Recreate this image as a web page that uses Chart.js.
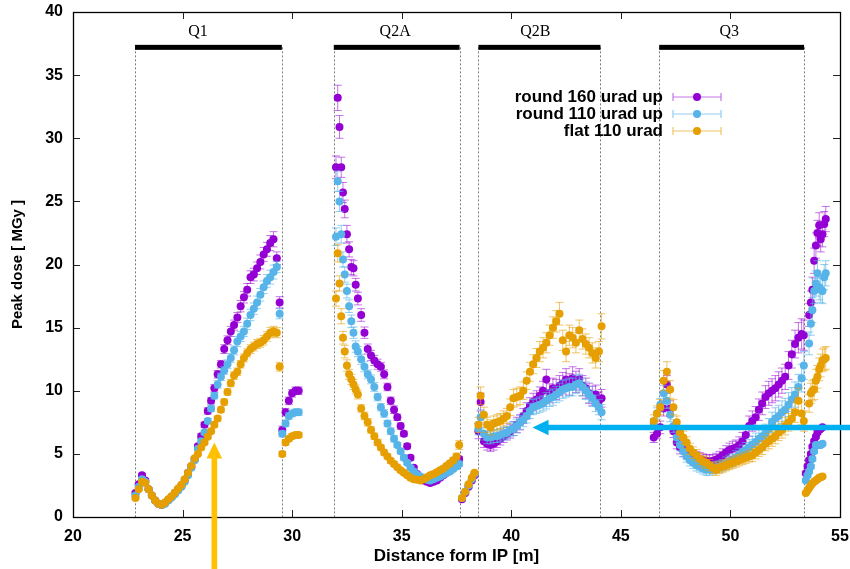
<!DOCTYPE html>
<html>
<head>
<meta charset="utf-8">
<script src="https://cdn.jsdelivr.net/npm/chart.js@4.4.1/dist/chart.umd.min.js"></script>
<style>
html,body{margin:0;padding:0;background:#ffffff;}
#wrap{width:850px;height:569px;}
</style>
</head>
<body>
<div id="wrap"><canvas id="c" width="850" height="569"></canvas></div>
<script>
// ---------- data ----------
const distance = [
  // Q1
  22.85,23.0,23.15,23.3,23.45,23.6,23.75,23.9,24.05,24.2,
  24.35,24.5,24.65,24.8,24.95,25.1,25.25,25.4,25.55,25.7,
  25.85,26.0,26.15,26.3,26.45,26.6,26.75,26.9,27.05,27.2,
  27.35,27.5,27.65,27.8,27.95,28.1,28.25,28.4,28.55,28.7,
  28.85,29.0,29.15,29.3,29.43,
  // after Q1
  29.55,29.7,29.85,30.0,30.15,30.3,
  // Q2A
  32.0,32.08,32.16,32.24,32.32,32.4,32.5,32.6,32.7,32.8,
  32.9,33.0,33.15,33.3,33.45,33.6,33.75,33.9,34.05,34.2,
  34.35,34.5,34.65,34.8,34.95,35.1,35.25,35.4,35.55,35.7,
  35.85,36.0,36.15,36.3,36.45,36.6,36.75,36.9,37.05,37.2,
  37.35,37.5,37.62,
  // after Q2A
  37.75,37.9,38.05,38.2,38.32,
  // Q2B
  38.5,38.6,38.75,38.9,39.05,39.2,39.35,39.5,39.65,39.8,
  39.95,40.1,40.25,40.4,40.55,40.7,40.85,41.0,41.15,41.3,
  41.45,41.6,41.75,41.9,42.05,42.2,42.35,42.5,42.65,42.8,
  42.95,43.1,43.25,43.4,43.55,43.7,43.85,44.0,44.12,
  // Q3
  46.5,46.65,46.8,46.95,47.1,47.25,47.4,47.55,47.7,47.85,
  48.0,48.15,48.3,48.45,48.6,48.75,48.9,49.05,49.2,49.35,
  49.5,49.65,49.8,49.95,50.1,50.25,50.4,50.55,50.7,50.85,
  51.0,51.15,51.3,51.45,51.6,51.75,51.9,52.05,52.2,52.35,
  52.5,52.65,52.8,52.95,53.1,53.25,53.35,
  // after Q3, upper branch
  53.59,53.67,53.74,53.82,53.9,53.97,54.05,54.12,54.2,54.28,54.35,
  // after Q3, lower branch
  53.44,53.52,53.59,53.67,53.74,53.82,53.9,53.97,54.05,54.12,54.2
];

const round160 = [
  1.9,2.6,3.3,2.9,2.2,1.7,1.3,1.05,0.95,1.1,
  1.35,1.6,1.9,2.2,2.5,2.95,3.5,4.0,4.6,5.6,
  6.4,7.3,8.4,9.2,10.2,11.3,12.1,13.3,14.0,14.7,
  15.2,15.8,16.7,17.4,18.0,19.0,19.2,19.7,20.2,20.8,
  21.2,21.7,22.0,20.5,17.0,
  6.9,8.3,9.2,9.8,10.0,10.0,
  27.7,33.2,30.9,27.7,25.7,24.4,22.4,21.2,19.8,19.7,
  18.4,17.3,16.0,14.6,13.3,12.8,12.4,12.1,11.9,11.3,
  10.3,9.2,8.5,7.9,7.2,6.6,5.6,4.7,3.9,3.4,
  3.1,2.9,2.8,2.7,2.8,2.9,3.1,3.3,3.5,3.7,
  4.0,4.3,4.6,
  1.4,1.9,2.4,2.9,3.3,
  6.8,9.1,6.0,5.8,5.7,5.8,6.0,6.2,6.4,6.6,
  6.8,7.0,7.3,7.5,8.0,8.4,8.8,9.1,9.3,9.6,
  10.0,10.9,9.8,10.2,10.1,10.4,10.6,10.9,10.5,11.0,
  10.7,10.9,10.4,10.2,9.8,9.6,9.7,9.2,9.4,
  6.3,6.6,7.1,8.6,10.5,8.6,6.8,5.9,5.5,5.3,
  5.1,4.9,4.8,4.7,4.6,4.5,4.45,4.4,4.45,4.55,
  4.7,4.9,5.1,5.3,5.4,5.5,5.7,6.0,6.5,7.2,
  7.6,7.9,8.5,9.0,9.5,9.8,10.0,10.2,10.5,10.8,
  11.1,12.0,12.9,13.7,14.2,14.5,14.4,
  16.0,17.0,18.0,20.3,21.5,22.5,23.1,22.0,22.4,23.2,23.6,
  3.46,4.0,4.5,5.0,5.56,6.0,6.36,6.7,6.9,7.0,7.1
];

const round110 = [
  1.7,2.4,3.0,2.8,2.2,1.7,1.3,1.05,0.95,1.05,
  1.3,1.55,1.8,2.1,2.4,2.8,3.3,3.9,4.5,5.4,
  6.0,6.7,7.6,8.6,9.6,10.5,11.1,11.6,12.1,12.6,
  13.2,13.9,14.3,14.7,15.3,16.0,16.5,17.0,17.6,18.2,
  18.7,19.0,19.4,19.8,16.1,
  6.6,7.4,8.0,8.2,8.3,8.3,
  22.2,26.6,25.0,22.4,20.4,19.2,17.9,16.7,15.5,14.6,
  13.5,13.1,12.5,11.9,11.3,10.9,10.3,9.5,8.7,8.2,
  7.4,6.8,6.2,5.7,5.2,4.7,4.3,3.9,3.6,3.35,
  3.2,3.05,2.95,2.9,3.0,3.1,3.2,3.35,3.5,3.6,
  3.8,4.0,4.2,
  1.5,2.0,2.5,3.0,3.4,
  7.0,7.9,6.6,6.3,6.3,6.4,6.4,6.5,6.6,6.7,
  6.9,7.0,7.2,7.5,7.7,8.0,8.4,8.7,8.8,8.9,
  9.0,9.2,9.4,9.5,9.7,9.9,10.1,10.2,10.3,10.3,
  10.5,10.6,10.3,10.0,9.7,9.4,9.0,8.7,8.3,
  7.4,8.2,8.9,9.8,9.2,8.1,7.2,6.3,5.7,5.2,
  4.8,4.5,4.3,4.1,4.0,3.85,3.75,3.75,3.85,3.95,
  4.0,4.1,4.25,4.4,4.5,4.7,4.9,5.1,5.3,5.5,
  5.75,5.95,6.2,6.4,6.6,7.0,7.5,7.8,8.0,8.3,
  8.5,8.9,9.3,9.7,10.3,11.0,12.0,
  13.75,15.3,16.4,17.9,18.5,19.3,18.2,18.0,17.9,19.0,19.3,
  2.9,3.3,3.6,4.0,4.6,5.2,5.7,5.7,5.7,5.7,5.8
];

const flat110 = [
  1.5,2.2,2.8,2.7,2.2,1.7,1.3,1.05,0.98,1.15,
  1.4,1.65,1.95,2.25,2.55,3.0,3.5,4.05,4.65,5.0,
  5.5,5.9,6.35,6.8,7.3,7.8,8.5,9.1,9.9,10.6,
  11.2,11.5,12.1,12.6,13.0,13.3,13.5,13.7,13.8,14.0,
  14.3,14.6,14.7,14.6,11.9,
  5.0,5.9,6.2,6.4,6.5,6.5,
  17.3,20.9,18.5,15.9,14.2,13.1,12.0,11.3,10.9,10.5,
  10.1,9.7,8.6,8.0,7.5,6.9,6.4,5.9,5.5,5.1,
  4.8,4.45,4.2,3.95,3.7,3.5,3.3,3.1,3.0,2.95,
  2.9,3.0,3.15,3.3,3.4,3.55,3.7,3.85,4.05,4.25,
  4.5,4.8,5.7,
  1.5,2.0,2.6,3.1,3.5,
  7.3,9.6,8.1,7.3,7.1,7.4,7.5,7.6,7.8,8.0,
  8.7,9.4,9.5,9.6,10.0,10.8,11.5,12.1,12.6,13.1,
  13.4,13.8,14.4,15.0,15.5,16.1,14.0,13.1,14.4,14.2,
  13.8,14.8,14.1,13.7,13.4,13.0,12.6,13.1,15.1,
  7.6,8.2,8.7,10.8,11.5,10.1,8.7,7.5,6.7,6.3,
  5.9,5.4,5.1,4.9,4.6,4.4,4.3,4.1,3.9,3.75,
  3.9,4.0,4.1,4.2,4.3,4.4,4.5,4.6,4.7,4.8,
  4.9,5.1,5.3,5.5,5.8,6.0,6.2,6.4,6.7,6.9,
  7.2,7.5,7.8,8.3,9.2,8.2,7.6,
  9.0,9.8,10.0,10.1,10.8,11.1,11.7,12.0,12.4,12.5,12.6,
  1.9,2.1,2.3,2.5,2.65,2.8,2.9,3.0,3.1,3.15,3.2
];

const err160 = [
  0.1,0.1,0.15,0.15,0.1,0.1,0.1,0.1,0.1,0.1,
  0.1,0.1,0.1,0.1,0.1,0.1,0.12,0.12,0.15,0.15,
  0.2,0.2,0.25,0.25,0.3,0.3,0.3,0.35,0.35,0.4,
  0.4,0.4,0.45,0.45,0.5,0.5,0.5,0.5,0.55,0.55,
  0.55,0.6,0.6,0.5,0.45,
  0.3,0.3,0.3,0.3,0.3,0.3,
  0.9,1.0,0.9,0.8,0.8,0.7,0.7,0.6,0.6,0.6,
  0.5,0.5,0.5,0.45,0.4,0.4,0.4,0.4,0.35,0.35,
  0.3,0.3,0.3,0.25,0.25,0.2,0.2,0.2,0.15,0.15,
  0.15,0.15,0.15,0.15,0.15,0.15,0.15,0.15,0.15,0.15,
  0.2,0.2,0.2,
  0.1,0.1,0.1,0.1,0.1,
  0.6,0.7,0.5,0.5,0.5,0.5,0.5,0.5,0.5,0.5,
  0.55,0.55,0.6,0.6,0.6,0.65,0.65,0.7,0.7,0.7,
  0.75,0.8,0.75,0.8,0.8,0.8,0.85,0.85,0.85,0.9,
  0.85,0.85,0.8,0.8,0.8,0.75,0.75,0.7,0.7,
  0.4,0.4,0.5,0.6,0.7,0.6,0.5,0.5,0.5,0.5,
  0.5,0.5,0.5,0.5,0.5,0.5,0.5,0.5,0.5,0.5,
  0.5,0.5,0.55,0.55,0.6,0.6,0.65,0.7,0.75,0.8,
  0.8,0.85,0.85,0.9,0.9,0.95,0.95,1.0,1.0,1.0,
  1.0,1.1,1.1,1.1,1.2,1.2,1.2,
  0.9,0.9,1.0,1.0,1.0,1.0,1.0,1.0,1.0,1.0,1.0,
  0.15,0.15,0.15,0.15,0.15,0.15,0.15,0.15,0.15,0.15,0.15
];

const err110 = [
  0.1,0.1,0.12,0.12,0.1,0.1,0.1,0.1,0.1,0.1,
  0.1,0.1,0.1,0.1,0.1,0.1,0.1,0.1,0.1,0.12,
  0.15,0.18,0.2,0.25,0.25,0.3,0.3,0.3,0.35,0.35,
  0.35,0.4,0.4,0.4,0.45,0.45,0.45,0.5,0.5,0.5,
  0.5,0.55,0.55,0.45,0.4,
  0.25,0.25,0.25,0.25,0.25,0.25,
  0.7,0.8,0.8,0.7,0.6,0.6,0.55,0.5,0.5,0.45,
  0.45,0.4,0.4,0.4,0.35,0.35,0.35,0.3,0.3,0.3,
  0.25,0.25,0.25,0.2,0.2,0.2,0.15,0.15,0.15,0.15,
  0.15,0.15,0.15,0.15,0.15,0.15,0.15,0.15,0.15,0.15,
  0.15,0.2,0.2,
  0.1,0.1,0.1,0.1,0.1,
  0.5,0.6,0.5,0.5,0.5,0.5,0.5,0.5,0.5,0.5,
  0.55,0.55,0.55,0.55,0.55,0.55,0.6,0.6,0.6,0.6,
  0.6,0.65,0.65,0.65,0.65,0.7,0.7,0.7,0.7,0.7,
  0.7,0.7,0.7,0.7,0.65,0.65,0.65,0.6,0.6,
  0.4,0.45,0.5,0.6,0.6,0.55,0.5,0.45,0.45,0.45,
  0.45,0.45,0.45,0.45,0.45,0.45,0.45,0.45,0.45,0.45,
  0.45,0.45,0.5,0.5,0.5,0.55,0.55,0.6,0.6,0.65,
  0.65,0.7,0.7,0.75,0.75,0.8,0.8,0.85,0.85,0.9,
  0.9,0.95,0.95,1.0,1.0,1.1,1.1,
  0.9,0.9,1.0,1.0,1.0,1.0,1.0,1.0,1.0,1.0,1.0,
  0.15,0.15,0.15,0.15,0.15,0.15,0.15,0.15,0.15,0.15,0.15
];

const errFlat = [
  0.1,0.1,0.12,0.12,0.1,0.1,0.1,0.1,0.1,0.1,
  0.1,0.1,0.1,0.1,0.1,0.1,0.1,0.1,0.1,0.12,
  0.12,0.15,0.15,0.18,0.2,0.2,0.22,0.25,0.25,0.28,
  0.3,0.3,0.3,0.32,0.32,0.35,0.35,0.35,0.35,0.38,
  0.38,0.4,0.4,0.4,0.35,
  0.2,0.2,0.2,0.2,0.2,0.2,
  0.6,0.7,0.6,0.6,0.5,0.5,0.45,0.4,0.4,0.4,
  0.35,0.35,0.3,0.3,0.3,0.25,0.25,0.25,0.2,0.2,
  0.2,0.2,0.2,0.15,0.15,0.15,0.15,0.15,0.15,0.15,
  0.15,0.15,0.15,0.15,0.15,0.15,0.15,0.15,0.15,0.2,
  0.2,0.25,0.35,
  0.1,0.1,0.1,0.1,0.1,
  0.6,0.7,0.6,0.6,0.6,0.6,0.6,0.6,0.6,0.6,
  0.65,0.7,0.7,0.7,0.7,0.7,0.75,0.75,0.75,0.8,
  0.8,0.8,0.8,0.85,0.85,0.9,0.8,0.8,0.8,0.8,
  0.8,0.8,0.8,0.8,0.8,0.8,0.8,0.8,1.0,
  0.5,0.6,0.6,0.8,0.8,0.7,0.6,0.5,0.5,0.5,
  0.45,0.45,0.45,0.45,0.45,0.45,0.45,0.45,0.45,0.45,
  0.45,0.45,0.45,0.45,0.45,0.45,0.45,0.45,0.45,0.45,
  0.5,0.5,0.5,0.55,0.55,0.6,0.6,0.6,0.65,0.65,
  0.7,0.7,0.75,0.8,1.0,0.9,0.8,
  0.7,0.8,0.8,0.8,0.9,0.9,0.9,0.9,0.9,0.9,0.9,
  0.1,0.1,0.1,0.1,0.1,0.1,0.1,0.1,0.1,0.1,0.1
];

const seriesNames = ['round 160 urad up', 'round 110 urad up', 'flat 110 urad'];
const magnetNames = ['Q1', 'Q2A', 'Q2B', 'Q3'];
const magnetStart = [22.83, 31.9, 38.5, 46.75];
const magnetEnd   = [29.53, 37.64, 44.07, 53.36];
const magnetLabelX = [25.7, 34.7, 41.1, 49.95];
const xTickValues = [20, 25, 30, 35, 40, 45, 50, 55];
const yTickValues = [0, 5, 10, 15, 20, 25, 30, 35, 40];

// ---------- styles ----------
const SANS = '"Liberation Sans", Arial, Helvetica, sans-serif';
const SERIF = '"Liberation Serif", "Times New Roman", serif';
const colors = ['#9400D3', '#56B4E9', '#E69F00'];
const errColors = ['rgba(148,0,211,0.55)', 'rgba(86,180,233,0.65)', 'rgba(230,159,0,0.6)'];

function points(values, errs) {
  return distance.map((x, i) => ({ x: x, y: values[i], e: errs[i] }));
}

// error bars, drawn just before each dataset's points
const errorBarPlugin = {
  id: 'errorBars',
  beforeDatasetDraw(chart, args) {
    const ds = chart.data.datasets[args.index];
    const { ctx, scales: { x, y } } = chart;
    ctx.save();
    ctx.strokeStyle = ds.errColor;
    ctx.lineWidth = 1;
    ctx.beginPath();
    ds.data.forEach(p => {
      if (!isFinite(p.y) || !isFinite(p.e)) return;
      const px = x.getPixelForValue(p.x);
      const y1 = y.getPixelForValue(p.y - p.e);
      const y2 = y.getPixelForValue(p.y + p.e);
      ctx.moveTo(px, y1); ctx.lineTo(px, y2);
      ctx.moveTo(px - 4, y1); ctx.lineTo(px + 4, y1);
      ctx.moveTo(px - 4, y2); ctx.lineTo(px + 4, y2);
    });
    ctx.stroke();
    ctx.restore();
  }
};

// magnet bars + dotted boundaries
const magnetPlugin = {
  id: 'magnets',
  beforeDatasetsDraw(chart, args, opts) {
    const { ctx, chartArea: a, scales: { x, y } } = chart;
    const barY = y.getPixelForValue(opts.barLevel);
    const labY = y.getPixelForValue(opts.labelLevel);
    ctx.save();
    magnetNames.forEach((name, i) => {
      const x1 = x.getPixelForValue(magnetStart[i]);
      const x2 = x.getPixelForValue(magnetEnd[i]);
      ctx.strokeStyle = '#7a7a7a';
      ctx.lineWidth = 1;
      ctx.setLineDash([2, 2]);
      [x1, x2].forEach(px => {
        ctx.beginPath();
        ctx.moveTo(Math.round(px) + 0.5, barY);
        ctx.lineTo(Math.round(px) + 0.5, a.bottom);
        ctx.stroke();
      });
      ctx.setLineDash([]);
      ctx.fillStyle = '#000';
      ctx.fillRect(x1, barY - 2.5, x2 - x1, 5);
      ctx.font = '16px ' + SERIF;
      ctx.textAlign = 'center';
      ctx.textBaseline = 'middle';
      ctx.fillText(name, x.getPixelForValue(magnetLabelX[i]), labY);
    });
    ctx.restore();
  }
};

// border box with inward ticks on all four sides
const framePlugin = {
  id: 'frame',
  afterDatasetsDraw(chart) {
    const { ctx, chartArea: a, scales: { x, y } } = chart;
    ctx.save();
    ctx.strokeStyle = '#222';
    ctx.lineWidth = 1;
    ctx.beginPath();
    const L = 7;
    xTickValues.forEach(v => {
      const px = Math.round(x.getPixelForValue(v)) + 0.5;
      ctx.moveTo(px, a.bottom); ctx.lineTo(px, a.bottom - L);
      ctx.moveTo(px, a.top); ctx.lineTo(px, a.top + L);
    });
    yTickValues.forEach(v => {
      const py = Math.round(y.getPixelForValue(v)) + 0.5;
      ctx.moveTo(a.left, py); ctx.lineTo(a.left + L, py);
      ctx.moveTo(a.right, py); ctx.lineTo(a.right - L, py);
    });
    ctx.stroke();
    ctx.strokeStyle = '#000';
    ctx.lineWidth = 1.3;
    ctx.strokeRect(Math.round(a.left) + 0.5, Math.round(a.top) + 0.5,
                   Math.round(a.right - a.left), Math.round(a.bottom - a.top));
    ctx.restore();
  }
};

// gnuplot-style key: right aligned text, then sample
const keyPlugin = {
  id: 'gpKey',
  afterDraw(chart) {
    const { ctx, chartArea: a } = chart;
    ctx.save();
    chart.data.datasets
      .map((ds, i) => ({ ds, i }))
      .sort((p, q) => p.ds.keyRow - q.ds.keyRow)
      .forEach(({ ds }, row) => {
        const yy = a.top + 85 + row * 17;
        const textRight = a.right - 177;
        const l1 = a.right - 167, l2 = a.right - 119;
        ctx.font = 'bold 17px ' + SANS;
        ctx.fillStyle = '#000';
        ctx.textAlign = 'right';
        ctx.textBaseline = 'middle';
        ctx.fillText(ds.label, textRight, yy);
        ctx.strokeStyle = ds.errColor;
        ctx.lineWidth = 1.2;
        ctx.beginPath();
        ctx.moveTo(l1, yy); ctx.lineTo(l2, yy);
        ctx.moveTo(l1, yy - 4); ctx.lineTo(l1, yy + 4);
        ctx.moveTo(l2, yy - 4); ctx.lineTo(l2, yy + 4);
        ctx.stroke();
        ctx.fillStyle = ds.backgroundColor;
        ctx.beginPath();
        ctx.arc((l1 + l2) / 2, yy, 4, 0, Math.PI * 2);
        ctx.fill();
      });
    ctx.restore();
  }
};

// two annotation arrows overlaid on the figure
const arrowPlugin = {
  id: 'arrows',
  afterDraw(chart, args, opts) {
    const { ctx, scales: { x, y } } = chart;
    ctx.save();
    opts.items.forEach(a => {
      const tx = x.getPixelForValue(a.x), ty = y.getPixelForValue(a.y);
      const fx = a.dir === 'up' ? tx : chart.width;
      const fy = a.dir === 'up' ? chart.height : ty;
      const dx = tx - fx, dy = ty - fy;
      const len = Math.hypot(dx, dy), ux = dx / len, uy = dy / len;
      const nx = -uy, ny = ux;
      const head = 16, hw = 7.8, sw = 2.8;
      const bx = tx - ux * head, by = ty - uy * head;
      ctx.fillStyle = a.color;
      ctx.beginPath();
      ctx.moveTo(fx + nx * sw, fy + ny * sw);
      ctx.lineTo(bx + nx * sw, by + ny * sw);
      ctx.lineTo(bx + nx * hw, by + ny * hw);
      ctx.lineTo(tx, ty);
      ctx.lineTo(bx - nx * hw, by - ny * hw);
      ctx.lineTo(bx - nx * sw, by - ny * sw);
      ctx.lineTo(fx - nx * sw, fy - ny * sw);
      ctx.closePath();
      ctx.fill();
    });
    ctx.restore();
  }
};

const tickFont = { family: SANS, size: 16, weight: 'bold' };
const titleFont = { family: SANS, size: 17, weight: 'bold' };

new Chart(document.getElementById('c'), {
  type: 'scatter',
  data: {
    datasets: [
      { label: seriesNames[0], data: points(round160, err160), backgroundColor: colors[0], borderColor: colors[0],
        errColor: errColors[0], pointRadius: 4, pointBorderWidth: 0, order: 2, keyRow: 0 },
      { label: seriesNames[1], data: points(round110, err110), backgroundColor: colors[1], borderColor: colors[1],
        errColor: errColors[1], pointRadius: 4, pointBorderWidth: 0, order: 1, keyRow: 1 },
      { label: seriesNames[2], data: points(flat110, errFlat), backgroundColor: colors[2], borderColor: colors[2],
        errColor: errColors[2], pointRadius: 4, pointBorderWidth: 0, order: 0, keyRow: 2 }
    ]
  },
  options: {
    responsive: false,
    animation: false,
    events: [],
    layout: { padding: { left: 0, right: 10, top: 12, bottom: 0 } },
    plugins: {
      legend: { display: false },
      tooltip: { enabled: false },
      magnets: { barLevel: 37.2, labelLevel: 38.4 },
      arrows: { items: [
        { x: 26.45, y: 5.9, dir: 'up', color: '#FFC000' },
        { x: 40.97, y: 7.09, dir: 'left', color: '#00B0F0' }
      ] }
    },
    scales: {
      x: {
        type: 'linear', min: 20, max: 55,
        afterFit(s) { s.height = 52; s.paddingLeft = 0; s.paddingRight = 0; },
        afterBuildTicks(s) { s.ticks = xTickValues.map(v => ({ value: v })); },
        ticks: { font: tickFont, color: '#000', padding: 10, maxRotation: 0, autoSkip: false },
        grid: { display: false, drawTicks: false },
        border: { display: false },
        title: { display: true, text: 'Distance form IP [m]', font: titleFont, color: '#000',
                 padding: { top: 0, bottom: 2 } }
      },
      y: {
        type: 'linear', min: 0, max: 40,
        afterFit(s) { s.width = 73; s.paddingTop = 0; s.paddingBottom = 0; },
        afterBuildTicks(s) { s.ticks = yTickValues.map(v => ({ value: v })); },
        ticks: { font: tickFont, color: '#000', padding: 10, autoSkip: false },
        grid: { display: false, drawTicks: false },
        border: { display: false },
        title: { display: true, text: 'Peak dose [ MGy ]', font: { family: SANS, size: 15, weight: 'bold' },
                 color: '#000', padding: { top: 9, bottom: 0 } }
      }
    }
  },
  plugins: [magnetPlugin, errorBarPlugin, framePlugin, keyPlugin, arrowPlugin]
});
</script>
</body>
</html>
